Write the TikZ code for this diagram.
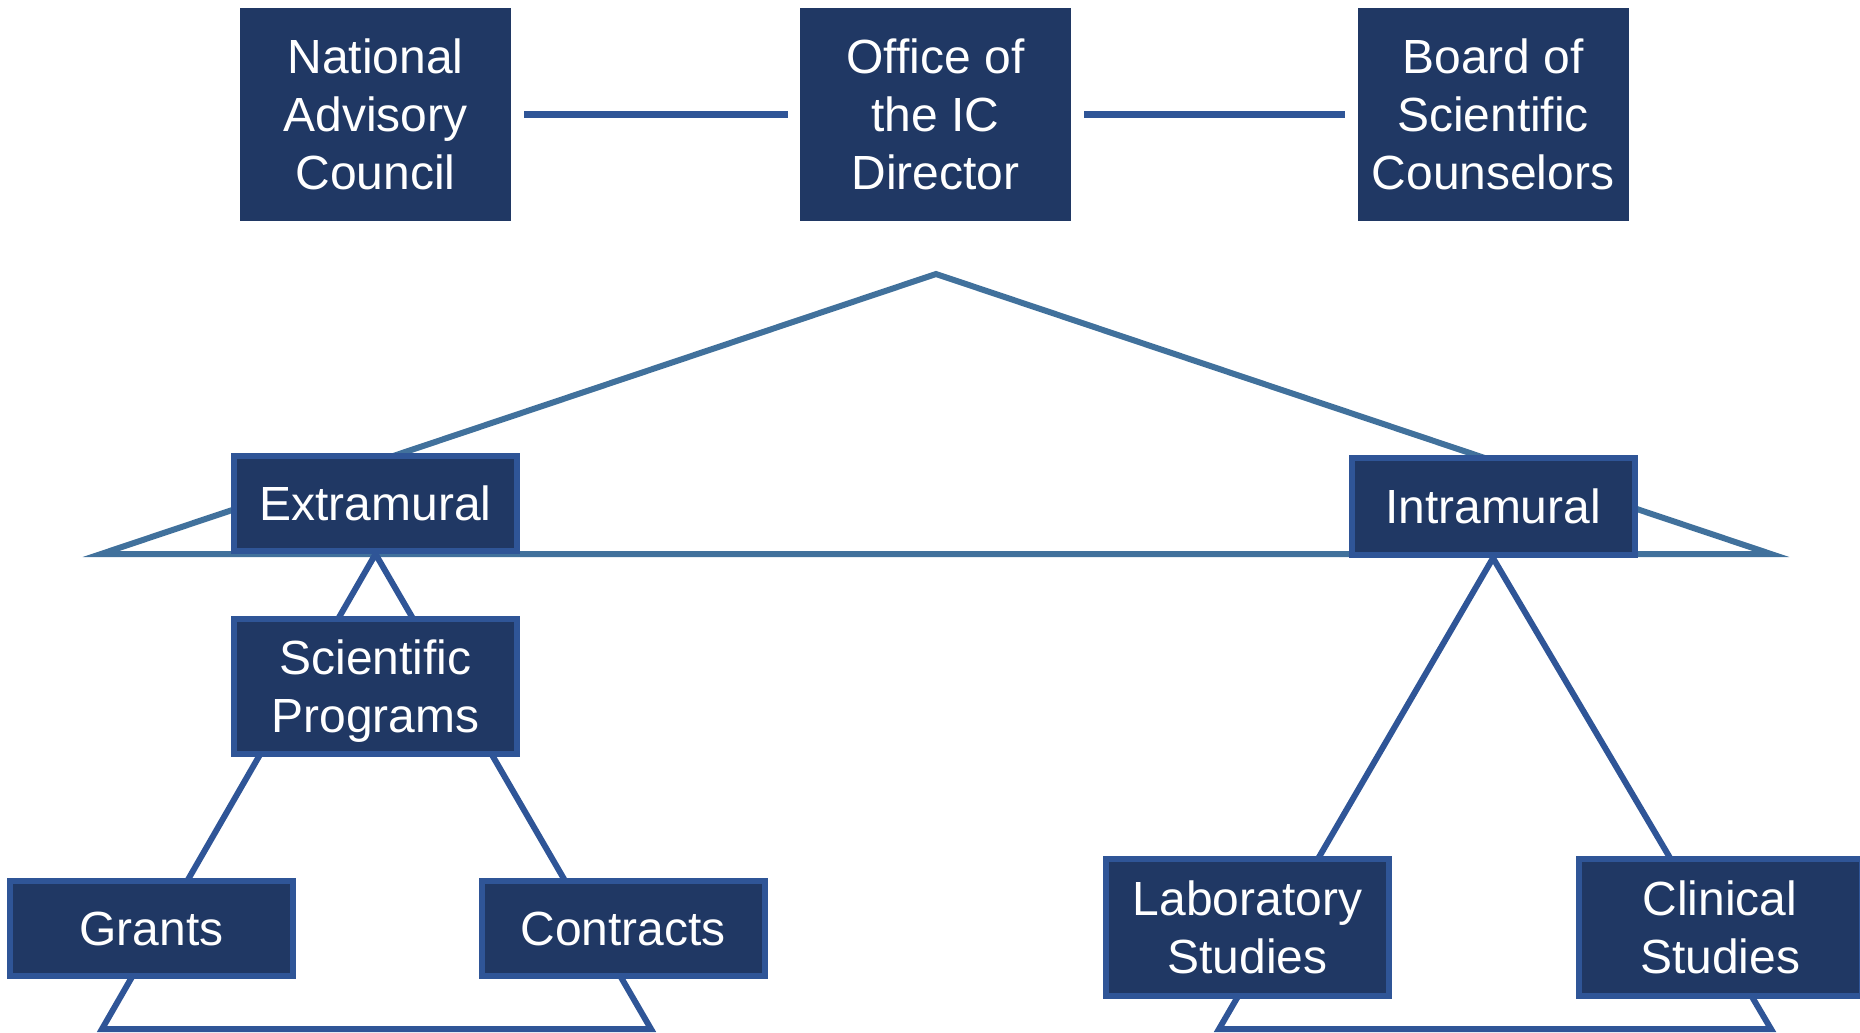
\documentclass[tikz,border=0pt]{standalone}
\usepackage{fontspec}
\setmainfont{Liberation Sans}
\usetikzlibrary{backgrounds}

\definecolor{navy}{RGB}{32,56,100}
\definecolor{rim}{RGB}{47,85,151}
\definecolor{steel}{RGB}{65,113,156}

\begin{document}
\begin{tikzpicture}[x=0.02cm, y=-0.02cm, line join=miter,
                    orgbox/.style={fill=navy, text=white, align=center, text depth=0pt,
                                   inner sep=0pt, font=\fontsize{27.3}{33}\selectfont},
                    headbox/.style={orgbox, minimum width=271*0.02cm, minimum height=213*0.02cm},
                    unitbox/.style={orgbox, draw=rim, line width=0.12cm,
                                    minimum width=283*0.02cm},
                    link/.style={rim, line width=0.13cm, shorten <=0.26cm, shorten >=0.24cm},
                    frame/.style={steel, line width=0.12cm},
                    branch/.style={rim, line width=0.12cm}
                   ]
\useasboundingbox (0,0) rectangle (1860,1032);
\clip (0,0) rectangle (1860,1032);

% top row
\node[headbox] (nac)    at (375.5,114.5) {National\\Advisory\\Council};
\node[headbox] (office) at (935.5,114.5) {Office of\\the IC\\Director};
\node[headbox] (board)  at (1493,114.5)  {Board of\\Scientific\\Counselors};

\draw[link] (nac.east) -- (office.west);
\draw[link] (office.east) -- (board.west);

% divisions
\node[unitbox, minimum height=95*0.02cm]  (extra) at (375.5,503.5) {Extramural};
\node[unitbox, minimum height=97*0.02cm]  (intra) at (1493,506.5)  {Intramural};
\node[unitbox, minimum height=135*0.02cm] (sci)   at (375.5,686.5) {Scientific\\Programs};
\node[unitbox, minimum height=95*0.02cm]  (grants)    at (151.5,928.5) {Grants};
\node[unitbox, minimum height=95*0.02cm]  (contracts) at (623,928.5)   {Contracts};
\node[unitbox, minimum height=137*0.02cm] (lab)  at (1247.5,927.5) {Laboratory\\Studies};
\node[unitbox, minimum height=137*0.02cm] (clin) at (1720,927.5)   {Clinical\\Studies};

\coordinate (top)   at (936,274);
\coordinate (baseL) at (101,554);
\coordinate (baseR) at (1771,554);
\coordinate (extL)  at (102,1029);
\coordinate (extR)  at (651,1029);
\coordinate (intL)  at (1219,1029);
\coordinate (intR)  at (1771,1029);

\begin{scope}[on background layer]
  \draw[frame]  (top) -- (baseL) -- (baseR) -- cycle;
  \draw[branch] (extra.south) -- (extL) -- (extR) -- cycle;
  \draw[branch] (intra.south) -- (intL) -- (intR) -- cycle;
\end{scope}
\end{tikzpicture}
\end{document}
